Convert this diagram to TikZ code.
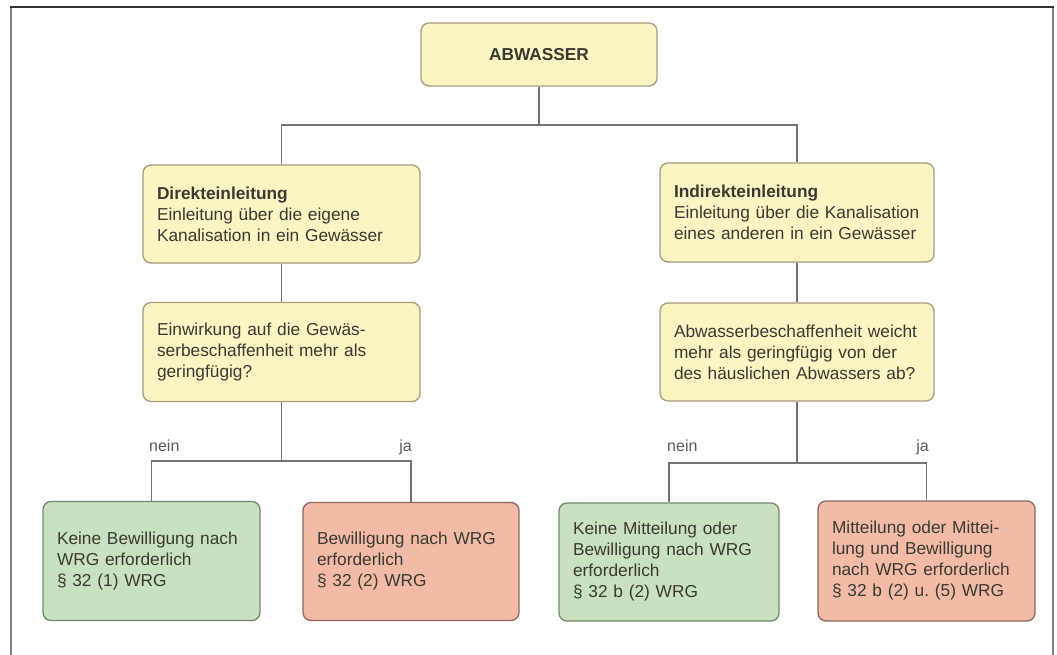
\documentclass[tikz,border=0pt]{standalone}
\usepackage{fontspec}
\setmainfont{Liberation Sans}
\frenchspacing
\usetikzlibrary{calc}
\definecolor{yfill}{RGB}{251,245,196}
\definecolor{ydraw}{RGB}{165,155,120}
\definecolor{gfill}{RGB}{201,225,193}
\definecolor{gdraw}{RGB}{115,135,110}
\definecolor{rfill}{RGB}{243,187,166}
\definecolor{rdraw}{RGB}{135,105,95}
\definecolor{txt}{RGB}{58,58,48}
\definecolor{conncol}{RGB}{115,115,115}
\tikzset{
  box/.style={draw, line width=1.3pt, rounded corners=8pt, inner xsep=14pt, inner ysep=0pt,
    align=left, text=txt, font=\fontsize{17.3}{21}\selectfont\frenchspacing},
  ybox/.style={box, fill=yfill, draw=ydraw},
  gbox/.style={box, fill=gfill, draw=gdraw},
  rbox/.style={box, fill=rfill, draw=rdraw},
  conn/.style={draw=conncol, line width=1.3pt},
  lbl/.style={text=black!65, font=\fontsize{16}{19}\selectfont, inner sep=0pt}
}
\begin{document}
\begin{tikzpicture}[x=1pt,y=-1pt]
\useasboundingbox (0,0) rectangle (1057,655);
% frame
\draw[line width=2pt, draw=black!50] (11,655) -- (11,7);
\draw[line width=2pt, draw=black!50] (1053,655) -- (1053,7);
\draw[line width=2pt, draw=black!80] (10,7) -- (1054,7);
% nodes
\node[ybox, align=center, minimum width=236pt, minimum height=63pt, text width=208pt] (top) at (539,54.5) {\textbf{ABWASSER}};
\node[ybox, minimum height=98pt, text width=249pt] (dir) at (281.5,214) {\textbf{Direkteinleitung}\\Einleitung über die eigene\\Kanalisation in ein Gewässer};
\node[ybox, minimum height=99pt, text width=246pt] (ind) at (797,212.5) {\textbf{Indirekteinleitung}\\Einleitung über die Kanalisation\\eines anderen in ein Gewässer};
\node[ybox, minimum height=99pt, text width=249pt] (q1) at (281.5,352) {Einwirkung auf die Gewäs-\\serbeschaffenheit mehr als\\geringfügig?};
\node[ybox, minimum height=98pt, text width=246pt] (q2) at (797,352) {Abwasserbeschaffenheit weicht\\mehr als geringfügig von der\\des häuslichen Abwassers ab?};
\node[gbox, minimum height=119pt, text width=189pt] (g1) at (151.5,561) {Keine Bewilligung nach\\WRG erforderlich\\§ 32 (1) WRG};
\node[rbox, minimum height=118pt, text width=188pt] (r1) at (411,561.5) {Bewilligung nach WRG\\erforderlich\\§ 32 (2) WRG};
\node[gbox, minimum height=118pt, text width=192pt] (g2) at (669,562) {Keine Mitteilung oder\\Bewilligung nach WRG\\erforderlich\\§ 32 b (2) WRG};
\node[rbox, minimum height=120pt, text width=189pt] (r2) at (926.5,561) {Mitteilung oder Mittei-\\lung und Bewilligung\\nach WRG erforderlich\\§ 32 b (2) u. (5) WRG};
% junctions
\coordinate (j0) at (539,125);
\coordinate (j1) at (281.5,461);
\coordinate (j2) at (797,463);
% connectors
\draw[conn] (top.south) -- (j0);
\draw[conn] (j0) -| (dir.north);
\draw[conn] (j0) -| (ind.north);
\draw[conn] (dir.south) -- (q1.north);
\draw[conn] (ind.south) -- (q2.north);
\draw[conn] (q1.south) -- (j1);
\draw[conn] (j1) -| (g1.north);
\draw[conn] (j1) -| (r1.north);
\draw[conn] (q2.south) -- (j2);
\draw[conn] (j2) -| (g2.north);
\draw[conn] (j2) -| (r2.north);
% labels
\node[lbl, anchor=base west] (n1) at (149,451) {nein};
\node[lbl, anchor=base east] (y1) at (412,451) {ja};
\node[lbl, anchor=base west] (n2) at (667,451) {nein};
\node[lbl, anchor=base east] (y2) at (929,451) {ja};
\end{tikzpicture}
\end{document}
